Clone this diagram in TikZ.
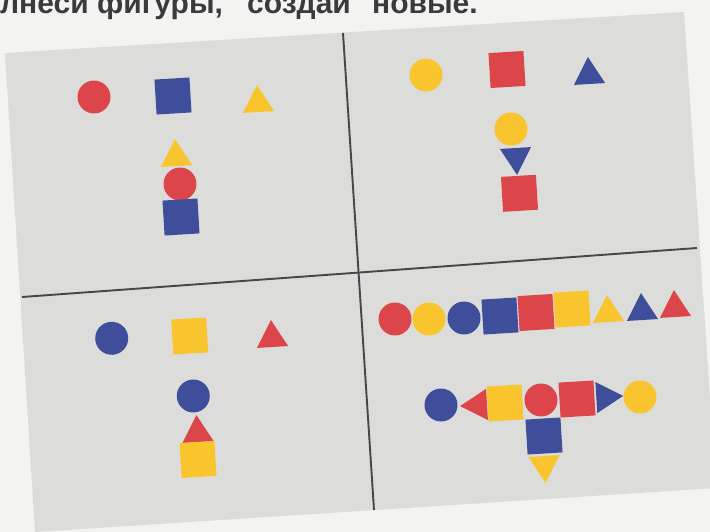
\documentclass[tikz,border=0pt]{standalone}
\usepackage{fontspec}
\setmainfont{Liberation Sans}
\usetikzlibrary{shapes.geometric}
\definecolor{fred}{HTML}{DC464A}
\definecolor{fblue}{HTML}{3F4E9B}
\definecolor{fyel}{HTML}{F8C52E}
\definecolor{pagec}{HTML}{F3F4F2}
\definecolor{cardc}{HTML}{DCDDDA}
\definecolor{linec}{HTML}{464746}
\definecolor{txtc}{HTML}{3A3A3A}
\begin{document}
\begin{tikzpicture}[x=1pt,y=-1pt,
  shp/.style={draw=none, inner sep=0pt, outer sep=0pt, rotate=3.5},
  circ/.style={shp, circle, minimum size=33pt},
  sq/.style={shp, rectangle, minimum size=35pt},
  tri/.style={shp, regular polygon, regular polygon sides=3, minimum size=36pt},
  tridown/.style={tri, regular polygon rotate=180},
  trileft/.style={tri, regular polygon rotate=90},
  triright/.style={tri, regular polygon rotate=-90},
  divider/.style={draw=linec, line width=1.9pt},
  word/.style={anchor=base west, inner sep=0pt, text=txtc, font=\fontsize{30}{32}\selectfont\bfseries}]
\useasboundingbox (0,0) rectangle (710,532);
\clip (0,0) rectangle (710,532);
\fill[pagec] (0,0) rectangle (710,532);
\fill[cardc] (5,53) -- (684,12) -- (716,488) -- (35,532) -- cycle;

% header text (cut off at the top)
\node[word] (w1) at (0,14) {лнеси};
\node[word] (w2) at (97,14) {фигуры,};
\node[word] (w3) at (247,14) {создай};
\node[word] (w4) at (372,14) {новые.};

% dividers
\coordinate (vt) at (343,33);
\coordinate (vb) at (374,510);
\coordinate (hl) at (22,297);
\coordinate (hr) at (697,248);
\draw[divider] (vt) -- (vb);
\draw[divider] (hl) -- (hr);

% top-left panel
\node[circ, fill=fred]  (c1) at (94,97) {};
\node[sq,   fill=fblue] (s1) at (173,96) {};
\node[tri,  fill=fyel]  (t1) at (258,103) {};
\node[tri,  fill=fyel]  (t2) at (176,157) {};
\node[circ, fill=fred]  (c2) at (180,184) {};
\node[sq,   fill=fblue] (s2) at (181,217) {};

% top-right panel
\node[circ, fill=fyel]  (c3) at (426,75) {};
\node[sq,   fill=fred]  (s3) at (507,69.5) {};
\node[tri,  fill=fblue] (t3) at (589,75) {};
\node[circ, fill=fyel]  (c4) at (511,129) {};
\node[tridown, fill=fblue] (t4) at (516,157) {};
\node[sq,   fill=fred]  (s4) at (519.5,193.3) {};

% bottom-left panel
\node[circ, fill=fblue] (c5) at (111.7,338.3) {};
\node[sq,   fill=fyel]  (s5) at (189.7,336) {};
\node[tri,  fill=fred]  (t5) at (272,338) {};
\node[circ, fill=fblue] (c6) at (193.3,396) {};
\node[tri,  fill=fred]  (t6) at (197.5,433) {};
\node[sq,   fill=fyel]  (s6) at (198,459.5) {};

% bottom-right panel, row 1
\node[circ, fill=fred]  (c7) at (395,319) {};
\node[circ, fill=fyel]  (c8) at (429,319) {};
\node[circ, fill=fblue] (c9) at (464,318) {};
\node[sq,   fill=fblue] (s7) at (500,316) {};
\node[sq,   fill=fred]  (s8) at (536,312.5) {};
\node[sq,   fill=fyel]  (s9) at (572,309) {};
\node[tri,  fill=fyel]  (t7) at (608,313) {};
\node[tri,  fill=fblue] (t8) at (642,311) {};
\node[tri,  fill=fred]  (t9) at (675,308) {};

% bottom-right panel, figure
\node[circ, fill=fblue] (c10) at (441,405) {};
\node[trileft, fill=fred] (t10) at (478,405) {};
\node[sq,   fill=fyel]  (s10) at (505,403) {};
\node[circ, fill=fred]  (c11) at (541,400) {};
\node[sq,   fill=fred]  (s11) at (577,399) {};
\node[triright, fill=fblue] (t11) at (605.3,397) {};
\node[circ, fill=fyel]  (c12) at (640,397) {};
\node[sq,   fill=fblue] (s12) at (544,436) {};
\node[tridown, fill=fyel] (t12) at (544.5,465) {};
\end{tikzpicture}
\end{document}
